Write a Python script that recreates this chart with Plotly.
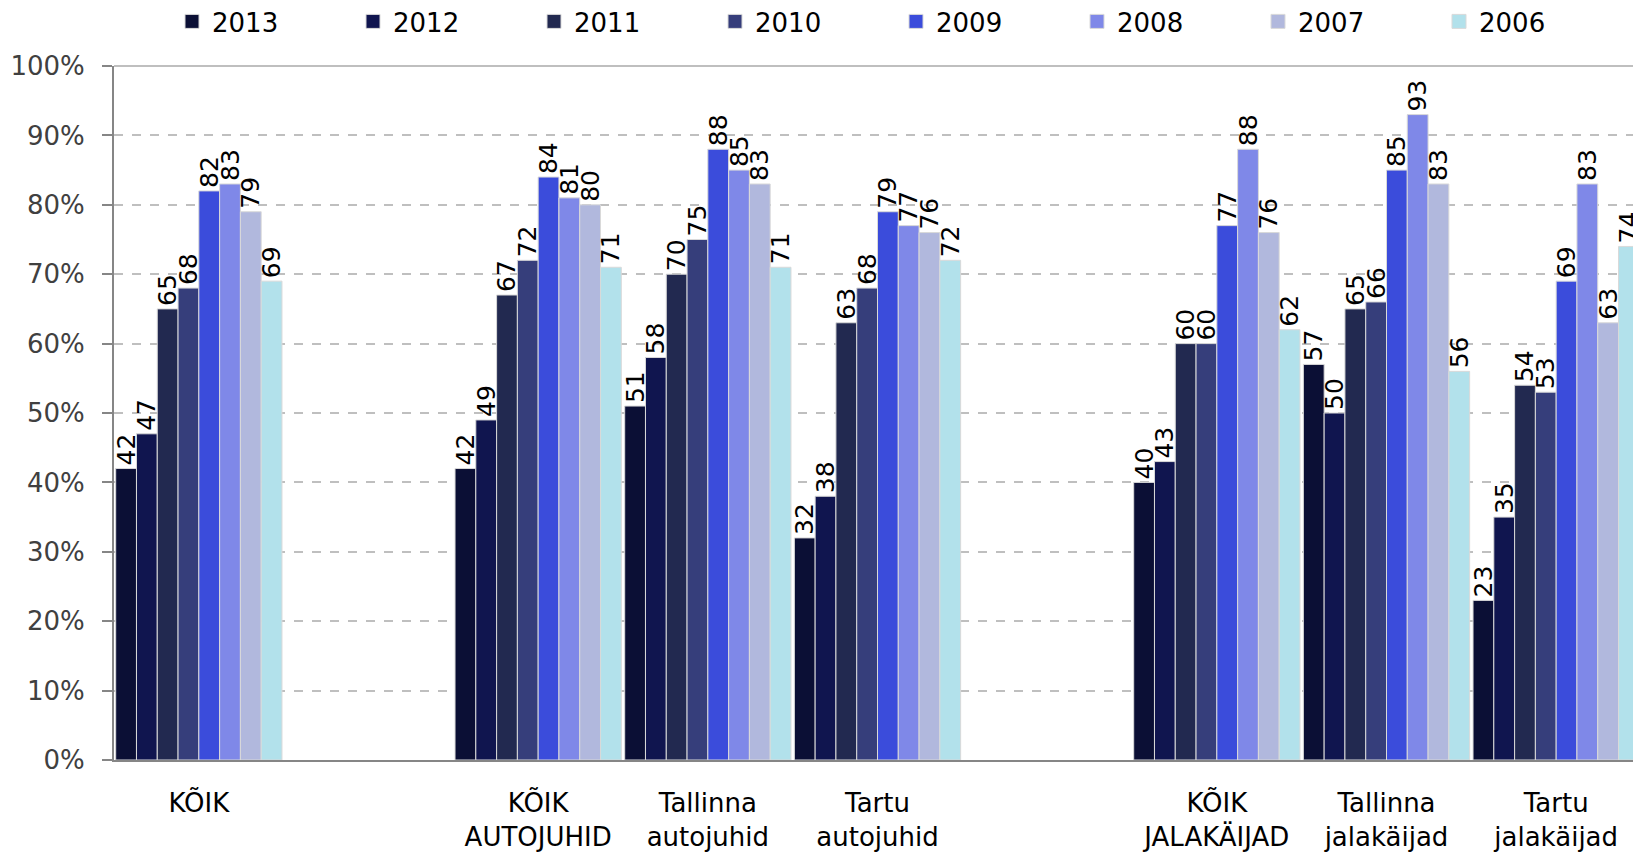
import plotly.graph_objects as go

categories = ["KÕIK", " ", "KÕIK<br>AUTOJUHID", "Tallinna<br>autojuhid", "Tartu<br>autojuhid",
              "  ", "KÕIK<br>JALAKÄIJAD", "Tallinna<br>jalakäijad", "Tartu<br>jalakäijad"]
years = ["2013", "2012", "2011", "2010", "2009", "2008", "2007", "2006"]

# values per category, ordered 2013..2006 (None = empty spacer category)
kõik = [42, 47, 65, 68, 82, 83, 79, 69]
kõik_autojuhid = [42, 49, 67, 72, 84, 81, 80, 71]
tallinna_autojuhid = [51, 58, 70, 75, 88, 85, 83, 71]
tartu_autojuhid = [32, 38, 63, 68, 79, 77, 76, 72]
kõik_jalakäijad = [40, 43, 60, 60, 77, 88, 76, 62]
tallinna_jalakäijad = [57, 50, 65, 66, 85, 93, 83, 56]
tartu_jalakäijad = [23, 35, 54, 53, 69, 83, 63, 74]
spacer = [None] * 8

rows = [kõik, spacer, kõik_autojuhid, tallinna_autojuhid, tartu_autojuhid,
        spacer, kõik_jalakäijad, tallinna_jalakäijad, tartu_jalakäijad]

colors = ["#0B0F35", "#10154F", "#222950", "#363E7B", "#3B4CDB", "#7F88E8", "#B1B8DD", "#B2E1EB"]

W, H = 1633, 845
ML, MT, MB = 106, 58, 93
plot_w = W - ML
plot_h = H - MT - MB

fig = go.Figure()
for i, yr in enumerate(years):
    vals = [r[i] for r in rows]
    fig.add_trace(go.Bar(
        name=yr, x=categories, y=vals, showlegend=False, legendgroup=yr,
        marker=dict(color=colors[i], line=dict(color="#D9D9D9", width=1)),
        text=[("" if v is None else str(v)) for v in vals],
        textposition="outside", textangle=-90, constraintext="none",
        cliponaxis=False,
        textfont=dict(family="DejaVu Sans", size=25, color="#000000"),
        hoverinfo="skip",
    ))

# legend entries with larger square swatches
for i, yr in enumerate(years):
    fig.add_trace(go.Scatter(
        name=yr, x=[None], y=[None], mode="markers", legendgroup=yr, showlegend=True,
        marker=dict(symbol="square", size=14, color=colors[i],
                    line=dict(color="#D9D9D9", width=1)),
        hoverinfo="skip",
    ))

fig.update_layout(
    width=W, height=H,
    margin=dict(l=ML, r=0, t=MT, b=MB, autoexpand=False),
    paper_bgcolor="white", plot_bgcolor="white",
    barmode="group", bargap=0.02, bargroupgap=0,
    font=dict(family="DejaVu Sans", size=26, color="#000000"),
    showlegend=True,
    legend=dict(orientation="h", xref="paper", yref="paper",
                x=(164 - ML) / plot_w, y=1 + (MT + 10) / plot_h,
                xanchor="left", yanchor="top",
                entrywidth=136, entrywidthmode="pixels",
                font=dict(family="DejaVu Sans", size=26, color="#000000"),
                traceorder="normal", bgcolor="rgba(0,0,0,0)"),
    xaxis=dict(type="category", showline=True, linecolor="#868686", linewidth=2,
               ticks="", showgrid=False, automargin=False,
               tickfont=dict(family="DejaVu Sans", size=26, color="#000000"),
               ticklabelstandoff=19, range=[-0.5, 8.5]),
    yaxis=dict(range=[0, 100], dtick=10, ticksuffix="%", showline=True, linecolor="#868686",
               linewidth=2, ticks="outside", ticklen=10, tickcolor="#868686", tickwidth=2,
               showgrid=True, gridcolor="#BFBFBF", griddash="dash", gridwidth=1.5,
               automargin=False,
               tickfont=dict(family="DejaVu Sans", size=26, color="#404040"),
               ticklabelstandoff=12, zeroline=False),
    shapes=[dict(type="line", xref="paper", yref="paper", x0=0, x1=1, y0=1, y1=1,
                 line=dict(color="#BFBFBF", width=2))],
)

fig.write_html("out.html")
